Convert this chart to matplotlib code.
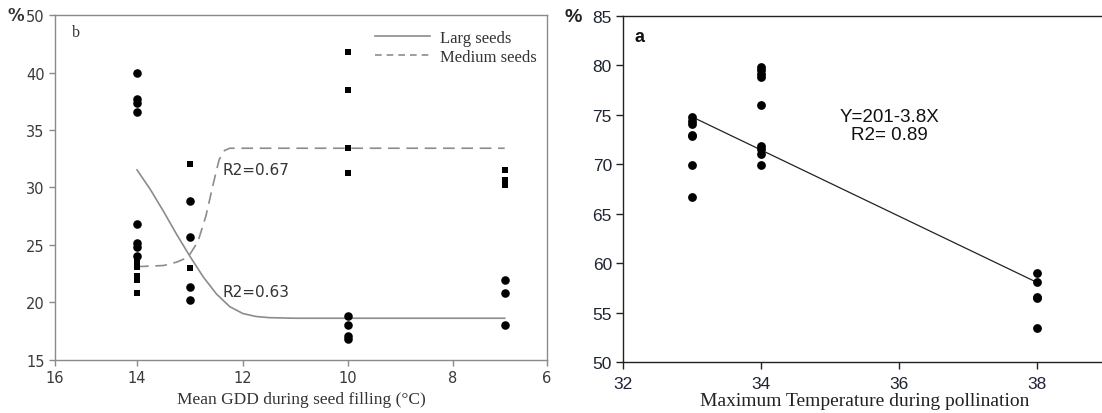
import numpy as np
import matplotlib
matplotlib.use("Agg")
import matplotlib.pyplot as plt
from matplotlib.lines import Line2D

# ---------------- Panel b (left) data ----------------
b_circle_x = [14, 14, 14, 14, 14, 14, 14, 14,
              13, 13, 13, 13,
              10, 10, 10, 10,
              6.9, 6.9, 6.9]
b_circle_y = [40.0, 37.7, 37.4, 36.6, 26.8, 25.2, 24.8, 24.0,
              28.8, 25.7, 21.3, 20.2,
              18.8, 18.0, 17.1, 16.8,
              21.9, 20.8, 18.0]
b_square_x = [14, 14, 14, 14, 14,
              13, 13,
              10, 10, 10, 10,
              6.9, 6.9, 6.9]
b_square_y = [23.6, 23.1, 22.3, 21.9, 20.8,
              32.0, 23.0,
              43.6, 38.5, 33.4, 31.2,
              31.5, 30.6, 30.2]
# fitted curves
large_x = [14.0, 13.75, 13.5, 13.25, 13.0, 12.75, 12.5, 12.25, 12.0, 11.75, 11.5, 11.0, 10.0, 8.0, 6.9]
large_y = [31.5, 29.8, 27.9, 25.9, 24.0, 22.2, 20.7, 19.6, 19.0, 18.75, 18.65, 18.6, 18.6, 18.6, 18.6]
medium_x = [14.0, 13.5, 13.25, 13.1, 13.0, 12.85, 12.7, 12.55, 12.45, 12.35, 12.25, 12.0, 10.0, 8.0, 6.9]
medium_y = [23.1, 23.2, 23.5, 23.8, 24.2, 25.3, 27.5, 30.5, 32.4, 33.2, 33.4, 33.4, 33.4, 33.4, 33.4]
b_xticks = [16, 14, 12, 10, 8, 6]
b_yticks = [15, 20, 25, 30, 35, 40, 50]

# ---------------- Panel a (right) data ----------------
a_x = [33, 33, 33, 33, 33, 33, 33,
       34, 34, 34, 34, 34, 34, 34, 34, 34,
       38, 38, 38, 38, 38]
a_y = [74.75, 74.4, 74.1, 73.0, 72.9, 69.9, 66.7,
       79.8, 79.5, 79.1, 78.8, 76.0, 71.9, 71.5, 71.0, 69.9,
       59.0, 58.05, 56.6, 56.5, 53.4]
a_line_x = [33, 38]
a_line_y = [74.8, 58.05]
a_xticks = [32, 34, 36, 38]
a_yticks = [50, 55, 60, 65, 70, 75, 80, 85]

# axis geometry of the (scanned) left panel: pixel offset of each labelled tick
bx_knots = [6, 8, 10, 12, 14, 16]
bx_pix = [0, 94, 199, 304, 410, 492]
by_knots = [15, 20, 25, 30, 35, 40, 50]
by_pix = [0, 58, 115, 173, 230, 287, 345]

W, H = 1102, 414
fig = plt.figure(figsize=(W / 100, H / 100), dpi=100)

# ---------------- left panel ----------------
axb = fig.add_axes([55 / W, (H - 361) / H, 492 / W, 345 / H])
axb.set_xscale('function', functions=(lambda v: np.interp(v, bx_knots, bx_pix),
                                      lambda p: np.interp(p, bx_pix, bx_knots)))
axb.set_yscale('function', functions=(lambda v: np.interp(v, by_knots, by_pix),
                                      lambda p: np.interp(p, by_pix, by_knots)))
axb.set_xlim(16, 6)
axb.set_ylim(15, 50)
gray = '#8a8a8a'
axb.plot(large_x, large_y, color='#8c8c8c', lw=1.2, ls='-')
axb.plot(medium_x, medium_y, color='#8c8c8c', lw=1.2, ls=(0, (7, 4)))
axb.scatter(b_circle_x, b_circle_y, s=38, marker='o', color='black', zorder=3, linewidths=0)
axb.scatter(b_square_x, b_square_y, s=17, marker='s', color='black', zorder=3, linewidths=0)
axb.set_xticks(b_xticks)
axb.set_xticklabels([str(t) for t in b_xticks])
axb.set_yticks(b_yticks)
axb.set_yticklabels([str(t) for t in b_yticks])
axb.xaxis.set_minor_locator(matplotlib.ticker.NullLocator())
axb.yaxis.set_minor_locator(matplotlib.ticker.NullLocator())
for sp in axb.spines.values():
    sp.set_color(gray)
    sp.set_linewidth(1.0)
axb.tick_params(direction='out', length=4, width=1, color=gray, labelcolor='#3a3a3a',
                labelsize=10.5)
for lab in axb.get_xticklabels() + axb.get_yticklabels():
    lab.set_family('DejaVu Sans')
axb.set_xlabel('Mean GDD during seed filling (°C)', family='Liberation Serif',
               fontsize=12.5, color='#333333', labelpad=4)
axb.text(12.38, 31.5, 'R2=0.67', fontsize=11, color='#333333', family='DejaVu Sans',
         va='center', ha='left')
axb.text(12.38, 20.9, 'R2=0.63', fontsize=11, color='#333333', family='DejaVu Sans',
         va='center', ha='left')
axb.text(0.035, 0.95, 'b', transform=axb.transAxes, family='Liberation Serif',
         fontsize=11.5, color='#333333', va='center', ha='left')
handles = [Line2D([], [], color='#8c8c8c', lw=1.2, ls='-'),
           Line2D([], [], color='#8c8c8c', lw=1.2, ls=(0, (4, 3)))]
leg = axb.legend(handles, ['Larg seeds', 'Medium seeds'], loc='upper left',
                 bbox_to_anchor=(0.62, 1.0), frameon=False,
                 prop={'family': 'Liberation Serif', 'size': 12},
                 handlelength=3.3, handletextpad=0.6, labelspacing=0.15)
for t in leg.get_texts():
    t.set_color('#333333')
fig.text(16 / W, 1 - 16 / H, '%', fontsize=12, fontweight='bold', color='#333333',
         va='center', ha='center', family='DejaVu Sans')

# ---------------- right panel ----------------
axa = fig.add_axes([623 / W, (H - 363) / H, 483 / W, 346 / H])
axa.set_xlim(32, 39)
axa.set_ylim(50, 85)
axa.plot(a_line_x, a_line_y, color='#222222', lw=0.9)
axa.scatter(a_x, a_y, s=40, marker='o', color='black', zorder=3, linewidths=0)
axa.set_xticks(a_xticks)
axa.set_yticks(a_yticks)
axa.spines['right'].set_visible(False)
for sp in ['left', 'bottom', 'top']:
    axa.spines[sp].set_color('#222222')
    axa.spines[sp].set_linewidth(1.0)
axa.tick_params(direction='out', length=5, width=1, color='#222222',
                labelcolor='#1e2433', labelsize=12.5, pad=3)
axa.tick_params(axis='x', pad=5)
for lab in axa.get_xticklabels() + axa.get_yticklabels():
    lab.set_family('Liberation Sans')
axa.set_xlabel('Maximum Temperature during pollination', family='Liberation Serif',
               fontsize=14, color='#222222', labelpad=0.5)
axa.text(35.86, 73.9, 'Y=201-3.8X\nR2= 0.89', fontsize=13.5, family='Liberation Sans',
         ha='center', va='center', linespacing=1.05, color='#111111')
axa.text(32.17, 82.9, 'a', fontsize=13, fontweight='bold', family='Liberation Sans',
         ha='left', va='center', color='#111111')
fig.text(573 / W, 1 - 17 / H, '%', fontsize=14, fontweight='bold', color='#222222',
         va='center', ha='center', family='Liberation Sans')

fig.savefig('out.png', dpi=100)
